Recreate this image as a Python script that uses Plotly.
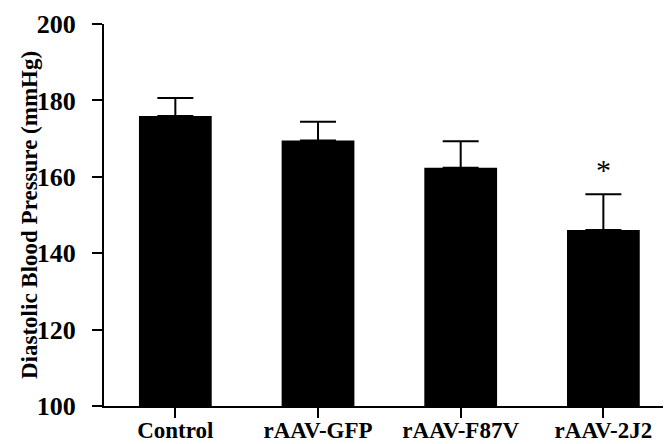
import plotly.graph_objects as go

categories = ["Control", "rAAV-GFP", "rAAV-F87V", "rAAV-2J2"]
values = [175.9, 169.5, 162.4, 146.1]
errors = [4.7, 4.9, 6.9, 9.3]
significance = ["", "", "", "*"]
y_ticks = [100, 120, 140, 160, 180, 200]
y_title = "Diastolic Blood Pressure (mmHg)"

# page body adds an 8px offset; compensate so the visible chart fills 671x444
W, H = 663, 436
ML, MR, MT, MB = 96, 0, 16, 38
plot_w = W - ML - MR

FONT = "Liberation Serif, Times New Roman, serif"

fig = go.Figure()
fig.add_trace(go.Bar(
    x=list(range(len(categories))),
    y=values,
    base=0,
    width=0.51,
    marker=dict(color="black", line=dict(width=0)),
    error_y=dict(type="data", symmetric=False, array=errors,
                 arrayminus=[0] * len(errors), color="black",
                 thickness=2, width=18),
    showlegend=False,
))

for i, s in enumerate(significance):
    if s:
        fig.add_annotation(x=i, y=values[i] + errors[i] + 6.5, text=s,
                           showarrow=False, xanchor="center", yanchor="middle",
                           font=dict(family=FONT, size=30, color="black"))

fig.add_annotation(xref="paper", yref="paper", x=(21 - ML) / plot_w, y=0.5,
                   text=y_title, textangle=-90, showarrow=False,
                   xanchor="center", yanchor="middle",
                   font=dict(family=FONT, size=23, color="black", weight="bold"))

fig.update_layout(
    width=W, height=H,
    margin=dict(l=ML, r=MR, t=MT, b=MB, pad=0),
    paper_bgcolor="white", plot_bgcolor="white",
    xaxis=dict(
        range=[-0.5, 3.474],
        tickmode="array", tickvals=list(range(len(categories))), ticktext=categories,
        showline=True, linecolor="black", linewidth=2,
        ticks="outside", ticklen=10, tickwidth=2, tickcolor="black",
        showgrid=False, zeroline=False,
        tickfont=dict(family=FONT, size=23, color="black", weight="bold"),
        ticklabelstandoff=-8,
    ),
    yaxis=dict(
        range=[100, 200],
        tickmode="array", tickvals=y_ticks,
        showline=True, linecolor="black", linewidth=2,
        ticks="outside", ticklen=10, tickwidth=2, tickcolor="black",
        showgrid=False, zeroline=False,
        tickfont=dict(family=FONT, size=26, color="black", weight="bold"),
        ticklabelstandoff=11,
    ),
)

fig.write_html("out.html")
